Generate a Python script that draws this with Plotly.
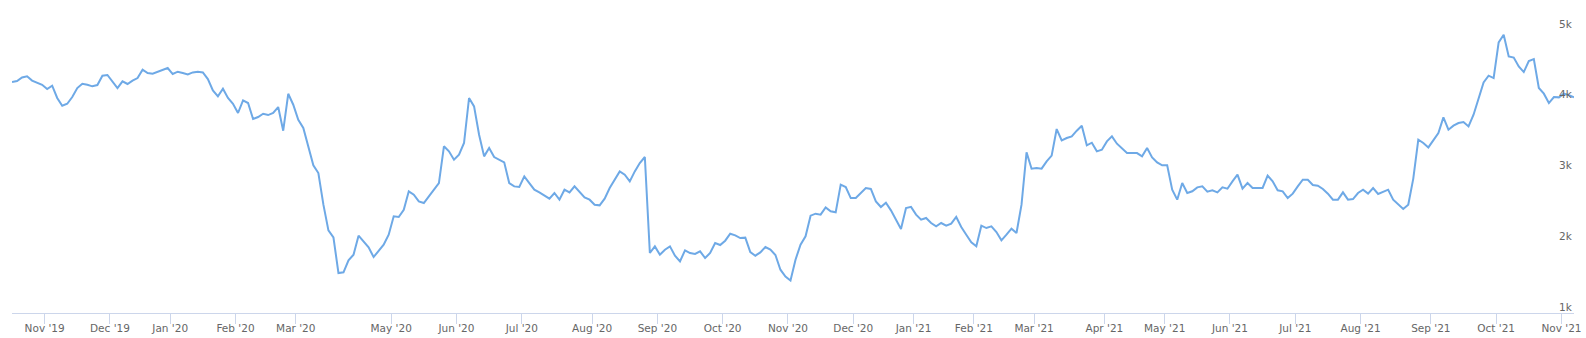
import numpy as np
import plotly.graph_objects as go

# ---- data ----
month_labels = ["Oct '19", "Nov '19", "Dec '19", "Jan '20", "Feb '20", "Mar '20", "Apr '20",
                "May '20", "Jun '20", "Jul '20", "Aug '20", "Sep '20", "Oct '20", "Nov '20",
                "Dec '20", "Jan '21", "Feb '21", "Mar '21", "Apr '21", "May '21", "Jun '21",
                "Jul '21", "Aug '21", "Sep '21", "Oct '21", "Nov '21"]

points_per_month = [7, 13, 12, 13, 12, 19, 0,
                    13, 13, 14, 13, 13, 13, 13,
                    12, 12, 12, 14, 12, 13, 13,
                    13, 14, 13, 13, 3]

values = [
    # Oct '19
    4265, 4280, 4330, 4345, 4285, 4255, 4225,
    # Nov '19
    4166, 4213, 4040, 3930, 3958, 4053, 4180, 4241, 4227, 4204, 4222, 4354, 4364,
    # Dec '19
    4274, 4180, 4274, 4237, 4284, 4321, 4439, 4392, 4383, 4406, 4439, 4463,
    # Jan '20
    4378, 4411, 4392, 4373, 4401, 4411, 4401, 4307, 4147, 4062, 4171, 4039, 3958,
    # Feb '20
    3827, 4006, 3968, 3742, 3770, 3817, 3798, 3827, 3911, 3577, 4099, 3944,
    # Mar '20
    3732, 3615, 3332, 3087, 2979, 2531, 2168, 2069, 1565, 1575, 1744, 1824, 2093, 2008,
    1928, 1791, 1872, 1966, 2107,
    # May '20
    2366, 2357, 2460, 2720, 2672, 2578, 2555, 2649, 2743, 2837, 3356, 3285, 3167,
    # Jun '20
    3238, 3403, 4039, 3920, 3520, 3214, 3332, 3205, 3167, 3129, 2837, 2790, 2781,
    # Jul '20
    2931, 2837, 2743, 2705, 2658, 2616, 2696, 2602, 2743, 2705, 2790, 2705, 2635, 2602,
    # Aug '20
    2531, 2522, 2616, 2767, 2884, 3002, 2955, 2861, 3002, 3120, 3205, 1848, 1942,
    # Sep '20
    1824, 1895, 1942, 1810, 1730, 1886, 1848, 1834, 1872, 1777, 1848, 1989, 1961,
    # Oct '20
    2022, 2121, 2098, 2060, 2065, 1862, 1810, 1857, 1932, 1895, 1820, 1612, 1514,
    # Nov '20
    1460, 1754, 1966, 2084, 2376, 2404, 2390, 2493, 2437, 2423, 2814, 2781, 2625,
    # Dec '20
    2625, 2696, 2767, 2753, 2578, 2498, 2560, 2451, 2319, 2187, 2484, 2500,
    # Jan '21
    2390, 2319, 2343, 2272, 2225, 2272, 2234, 2263, 2357, 2215, 2107, 1999,
    # Feb '21
    1942, 2234, 2201, 2225, 2145, 2027, 2107, 2192, 2131, 2531, 3271, 3040,
    # Mar '21
    3049, 3040, 3144, 3224, 3600, 3440, 3473, 3497, 3577, 3648, 3370, 3407, 3285, 3308,
    # Apr '21
    3426, 3497, 3393, 3323, 3261, 3261, 3261, 3214, 3332, 3200, 3129, 3087,
    # May '21
    3087, 2743, 2602, 2837, 2696, 2720, 2776, 2790, 2715, 2734, 2705, 2776, 2757,
    # Jun '21
    2861, 2955, 2757, 2837, 2767, 2762, 2767, 2941, 2861, 2734, 2720, 2625, 2687,
    # Jul '21
    2790, 2884, 2884, 2810, 2800, 2753, 2687, 2602, 2602, 2705, 2602, 2611, 2696,
    # Aug '21
    2743, 2687, 2767, 2682, 2710, 2743, 2602, 2540, 2470, 2531, 2900, 3450, 3403, 3341,
    # Sep '21
    3450, 3544, 3765, 3591, 3648, 3685, 3700, 3638, 3803, 4029, 4260, 4354, 4320,
    # Oct '21
    4825, 4934, 4627, 4610, 4486, 4406, 4562, 4590, 4180, 4100, 3968, 4053, 4048,
    # Nov '21
    4100, 4080, 4050,
]

y_tick_values = [1000, 2000, 3000, 4000, 5000]
y_tick_labels = ["1k", "2k", "3k", "4k", "5k"]

# ---- ordinal x axis built from the data ----
n = len(values)
x = list(range(n))
starts = np.concatenate([[0], np.cumsum(points_per_month)[:-1]])
tickvals, ticktext = [], []
for i, (lab, cnt, st) in enumerate(zip(month_labels, points_per_month, starts)):
    if i == 0 or cnt == 0:
        continue
    tickvals.append(st - 0.5)
    ticktext.append(lab)

font_family = "DejaVu Sans, Verdana, Arial, sans-serif"

fig = go.Figure()
fig.add_trace(go.Scatter(
    x=x, y=values, mode="lines",
    line=dict(color="#6ea9e6", width=2),
    hoverinfo="y",
))

fig.update_layout(
    width=1586, height=338,
    margin=dict(l=12, r=12, t=10, b=25, autoexpand=False),
    plot_bgcolor="white", paper_bgcolor="white",
    showlegend=False,
    font=dict(family=font_family, size=11, color="#666666"),
)
fig.update_xaxes(
    range=[0, n - 1],
    tickvals=tickvals, ticktext=ticktext,
    showgrid=False, zeroline=False,
    showline=True, linecolor="#ccd6eb", linewidth=1,
    ticks="outside", ticklen=10, tickcolor="#ccd6eb", tickwidth=1,
    tickfont=dict(size=10.5, color="#666666", family=font_family),
    automargin=False,
    ticklabeloverflow="allow",
    ticklabelstandoff=-5,
)
fig.update_yaxes(
    range=[1000, 5283],
    side="right",
    showticklabels=False,
    showgrid=False, zeroline=False, showline=False, ticks="",
    automargin=False,
)

for v, lab in zip(y_tick_values, y_tick_labels):
    fig.add_annotation(
        xref="paper", yref="y", x=1, y=v,
        text=lab, showarrow=False,
        xanchor="right", yanchor="middle",
        xshift=1, yshift=6.5,
        font=dict(size=10.5, color="#666666", family=font_family),
    )

fig.write_html("out.html")
